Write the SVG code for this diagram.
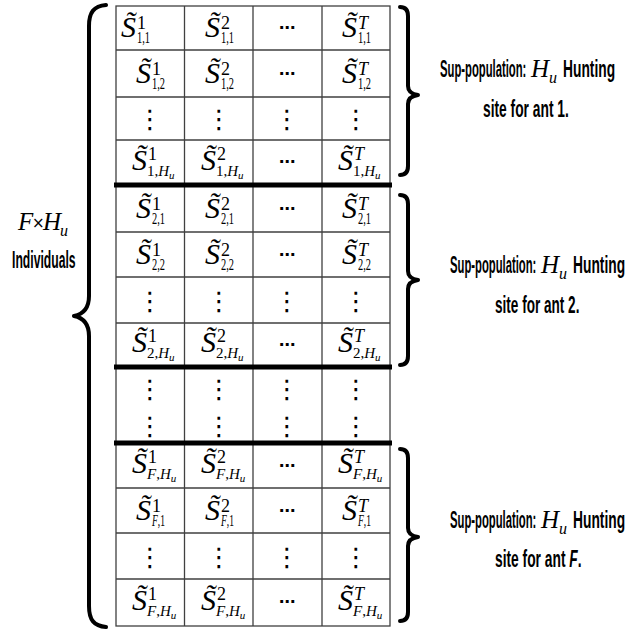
<svg xmlns="http://www.w3.org/2000/svg" width="626" height="634" viewBox="0 0 626 634">
<style>
.g{stroke:#404040;stroke-width:1.3;fill:none}
.tk{stroke:#000;stroke-width:5}
.br{fill:none;stroke:#000;stroke-width:4;stroke-linecap:round;stroke-linejoin:round}
.S{font-family:"Liberation Serif",serif;font-style:italic;font-size:30px}
.p{font-family:"Liberation Serif",serif;font-size:18px}
.pi{font-family:"Liberation Serif",serif;font-size:18px;font-style:italic}
.b{font-family:"Liberation Serif",serif;font-size:16px}
.bh{font-family:"Liberation Serif",serif;font-size:15px}
.i{font-style:italic}
.u{font-size:11px;font-style:italic}
.vd{font-family:"DejaVu Sans",sans-serif;font-size:26px;text-anchor:middle}
.hd{font-family:"DejaVu Sans",sans-serif;font-size:16px;text-anchor:middle;font-weight:bold}
.lab{font-family:"Liberation Sans",Arial,sans-serif;font-size:23px;font-weight:bold}
.li{font-style:italic}
.m{font-family:"Liberation Serif",serif;font-style:italic;font-size:25px}
.mu{font-family:"Liberation Serif",serif;font-style:italic;font-size:16px}
.x{font-family:"DejaVu Sans",sans-serif;font-size:15px}
</style>
<rect width="626" height="634" fill="#fff"/>
<g id="table-grid">
<rect class="g" x="116" y="6" width="274" height="620"/>
<path class="g" d="M184.5,6V626M253,6V626M322,6V626"/>
<path class="g" d="M116,50H390M116,97H390M116,140H390M116,232H390M116,277H390M116,323H390M116,488H390M116,533H390M116,579H390"/>
<path class="tk" d="M114,185H392M114,367H392M114,443H392"/>
</g>
<g id="sub-population-1">
<g id="row-1-1">
<text class="S" x="121" y="37">S̃</text><text class="p" x="137" y="29">1</text><text class="b" x="137" y="43" textLength="13" lengthAdjust="spacingAndGlyphs">1,1</text>
<text class="S" x="205" y="37">S̃</text><text class="p" x="221" y="29">2</text><text class="b" x="221" y="43" textLength="13" lengthAdjust="spacingAndGlyphs">1,1</text>
<text class="hd" x="287" y="33">⋯</text>
<text class="S" x="342" y="37">S̃</text><text class="pi" x="358" y="29">T</text><text class="b" x="358" y="43" textLength="13" lengthAdjust="spacingAndGlyphs">1,1</text>
</g>
<g id="row-1-2">
<text class="S" x="136" y="83">S̃</text><text class="p" x="152" y="75">1</text><text class="b" x="152" y="89" textLength="13" lengthAdjust="spacingAndGlyphs">1,2</text>
<text class="S" x="205" y="83">S̃</text><text class="p" x="221" y="75">2</text><text class="b" x="221" y="89" textLength="13" lengthAdjust="spacingAndGlyphs">1,2</text>
<text class="hd" x="287" y="79">⋯</text>
<text class="S" x="342" y="83">S̃</text><text class="pi" x="358" y="75">T</text><text class="b" x="358" y="89" textLength="13" lengthAdjust="spacingAndGlyphs">1,2</text>
</g>
<g id="row-1-dots">
<text class="vd" x="150" y="128">⋮</text><text class="vd" x="219" y="128">⋮</text><text class="vd" x="287" y="128">⋮</text><text class="vd" x="356" y="128">⋮</text>
</g>
<g id="row-1-hu">
<text class="S" x="132" y="170">S̃</text><text class="p" x="148" y="160">1</text><text class="bh" x="147" y="176">1,<tspan class="i">H</tspan><tspan class="u" dy="3">u</tspan></text>
<text class="S" x="201" y="170">S̃</text><text class="p" x="217" y="160">2</text><text class="bh" x="216" y="176">1,<tspan class="i">H</tspan><tspan class="u" dy="3">u</tspan></text>
<text class="hd" x="287" y="167">⋯</text>
<text class="S" x="338" y="170">S̃</text><text class="pi" x="354" y="160">T</text><text class="bh" x="353" y="176">1,<tspan class="i">H</tspan><tspan class="u" dy="3">u</tspan></text>
</g>
</g>
<g id="sub-population-2">
<g id="row-2-1">
<text class="S" x="136" y="218">S̃</text><text class="p" x="152" y="210">1</text><text class="b" x="152" y="224" textLength="13" lengthAdjust="spacingAndGlyphs">2,1</text>
<text class="S" x="205" y="218">S̃</text><text class="p" x="221" y="210">2</text><text class="b" x="221" y="224" textLength="13" lengthAdjust="spacingAndGlyphs">2,1</text>
<text class="hd" x="287" y="214">⋯</text>
<text class="S" x="342" y="218">S̃</text><text class="pi" x="358" y="210">T</text><text class="b" x="358" y="224" textLength="13" lengthAdjust="spacingAndGlyphs">2,1</text>
</g>
<g id="row-2-2">
<text class="S" x="136" y="264">S̃</text><text class="p" x="152" y="256">1</text><text class="b" x="152" y="270" textLength="13" lengthAdjust="spacingAndGlyphs">2,2</text>
<text class="S" x="205" y="264">S̃</text><text class="p" x="221" y="256">2</text><text class="b" x="221" y="270" textLength="13" lengthAdjust="spacingAndGlyphs">2,2</text>
<text class="hd" x="287" y="260">⋯</text>
<text class="S" x="342" y="264">S̃</text><text class="pi" x="358" y="256">T</text><text class="b" x="358" y="270" textLength="13" lengthAdjust="spacingAndGlyphs">2,2</text>
</g>
<g id="row-2-dots">
<text class="vd" x="150" y="310">⋮</text><text class="vd" x="219" y="310">⋮</text><text class="vd" x="287" y="310">⋮</text><text class="vd" x="356" y="310">⋮</text>
</g>
<g id="row-2-hu">
<text class="S" x="132" y="352">S̃</text><text class="p" x="148" y="342">1</text><text class="bh" x="147" y="358">2,<tspan class="i">H</tspan><tspan class="u" dy="3">u</tspan></text>
<text class="S" x="201" y="352">S̃</text><text class="p" x="217" y="342">2</text><text class="bh" x="216" y="358">2,<tspan class="i">H</tspan><tspan class="u" dy="3">u</tspan></text>
<text class="hd" x="287" y="350">⋯</text>
<text class="S" x="338" y="352">S̃</text><text class="pi" x="354" y="342">T</text><text class="bh" x="353" y="358">2,<tspan class="i">H</tspan><tspan class="u" dy="3">u</tspan></text>
</g>
</g>
<g id="middle-dots">
<text class="vd" x="150" y="398">⋮</text><text class="vd" x="219" y="398">⋮</text><text class="vd" x="287" y="398">⋮</text><text class="vd" x="356" y="398">⋮</text>
<text class="vd" x="150" y="435">⋮</text><text class="vd" x="219" y="435">⋮</text><text class="vd" x="287" y="435">⋮</text><text class="vd" x="356" y="435">⋮</text>
</g>
<g id="sub-population-F">
<g id="row-F-hu-a">
<text class="S" x="132" y="473">S̃</text><text class="p" x="148" y="463">1</text><text class="bh" x="147" y="479"><tspan class="i">F</tspan>,<tspan class="i">H</tspan><tspan class="u" dy="3">u</tspan></text>
<text class="S" x="201" y="473">S̃</text><text class="p" x="217" y="463">2</text><text class="bh" x="216" y="479"><tspan class="i">F</tspan>,<tspan class="i">H</tspan><tspan class="u" dy="3">u</tspan></text>
<text class="hd" x="287" y="471">⋯</text>
<text class="S" x="338" y="473">S̃</text><text class="pi" x="354" y="463">T</text><text class="bh" x="353" y="479"><tspan class="i">F</tspan>,<tspan class="i">H</tspan><tspan class="u" dy="3">u</tspan></text>
</g>
<g id="row-F-1">
<text class="S" x="136" y="520">S̃</text><text class="p" x="152" y="512">1</text><text class="b" x="152" y="526" textLength="13" lengthAdjust="spacingAndGlyphs"><tspan class="i">F</tspan>,1</text>
<text class="S" x="205" y="520">S̃</text><text class="p" x="221" y="512">2</text><text class="b" x="221" y="526" textLength="13" lengthAdjust="spacingAndGlyphs"><tspan class="i">F</tspan>,1</text>
<text class="hd" x="287" y="516">⋯</text>
<text class="S" x="342" y="520">S̃</text><text class="pi" x="358" y="512">T</text><text class="b" x="358" y="526" textLength="13" lengthAdjust="spacingAndGlyphs"><tspan class="i">F</tspan>,1</text>
</g>
<g id="row-F-dots">
<text class="vd" x="150" y="566">⋮</text><text class="vd" x="219" y="566">⋮</text><text class="vd" x="287" y="566">⋮</text><text class="vd" x="356" y="566">⋮</text>
</g>
<g id="row-F-hu-b">
<text class="S" x="132" y="610">S̃</text><text class="p" x="148" y="600">1</text><text class="bh" x="147" y="616"><tspan class="i">F</tspan>,<tspan class="i">H</tspan><tspan class="u" dy="3">u</tspan></text>
<text class="S" x="201" y="610">S̃</text><text class="p" x="217" y="600">2</text><text class="bh" x="216" y="616"><tspan class="i">F</tspan>,<tspan class="i">H</tspan><tspan class="u" dy="3">u</tspan></text>
<text class="hd" x="287" y="607">⋯</text>
<text class="S" x="338" y="610">S̃</text><text class="pi" x="354" y="600">T</text><text class="bh" x="353" y="616"><tspan class="i">F</tspan>,<tspan class="i">H</tspan><tspan class="u" dy="3">u</tspan></text>
</g>
</g>
<g id="braces">
<path class="br" d="M106,5C94,6 89,12 89,26L89,296C89,308 84,314 74,316C84,318 89,324 89,336L89,606C89,620 94,626 106,627"/>
<path class="br" d="M400,7C405,7 408,10 408,16L408,86C408,91 411,94 418,95C411,96 408,99 408,104L408,166C408,172 405,175 400,175"/>
<path class="br" d="M400,195C405,195 408,198 408,204L408,271C408,276 411,279 418,280C411,281 408,284 408,289L408,356C408,362 405,365 400,365"/>
<path class="br" d="M400,449C405,449 408,452 408,458L408,528C408,533 411,536 418,537C411,538 408,541 408,546L408,612C408,618 405,621 400,621"/>
</g>
<g id="label-all">
<text class="m" x="18" y="230">F</text><text class="x" x="32" y="228">×</text><text class="m" x="43" y="230">H</text><text class="mu" x="60" y="236">u</text>
<text class="lab" transform="translate(12,268) scale(0.53,1)">Individuals</text>
</g>
<g id="label-ant-1">
<text class="lab" transform="translate(440,77) scale(0.49,1)">Sup-population:</text>
<text class="m" x="531" y="77">H</text><text class="mu" x="549" y="83">u</text>
<text class="lab" transform="translate(563,77) scale(0.6,1)">Hunting</text>
<text class="lab" transform="translate(483,117) scale(0.6,1)">site for ant 1.</text>
</g>
<g id="label-ant-2">
<text class="lab" transform="translate(450,273) scale(0.49,1)">Sup-population:</text>
<text class="m" x="541" y="273">H</text><text class="mu" x="559" y="279">u</text>
<text class="lab" transform="translate(573,273) scale(0.6,1)">Hunting</text>
<text class="lab" transform="translate(495,313) scale(0.59,1)">site for ant 2.</text>
</g>
<g id="label-ant-F">
<text class="lab" transform="translate(450,528) scale(0.49,1)">Sup-population:</text>
<text class="m" x="541" y="528">H</text><text class="mu" x="559" y="534">u</text>
<text class="lab" transform="translate(573,528) scale(0.6,1)">Hunting</text>
<text class="lab" transform="translate(495,567) scale(0.6,1)">site for ant <tspan class="li">F</tspan>.</text>
</g>
</svg>
